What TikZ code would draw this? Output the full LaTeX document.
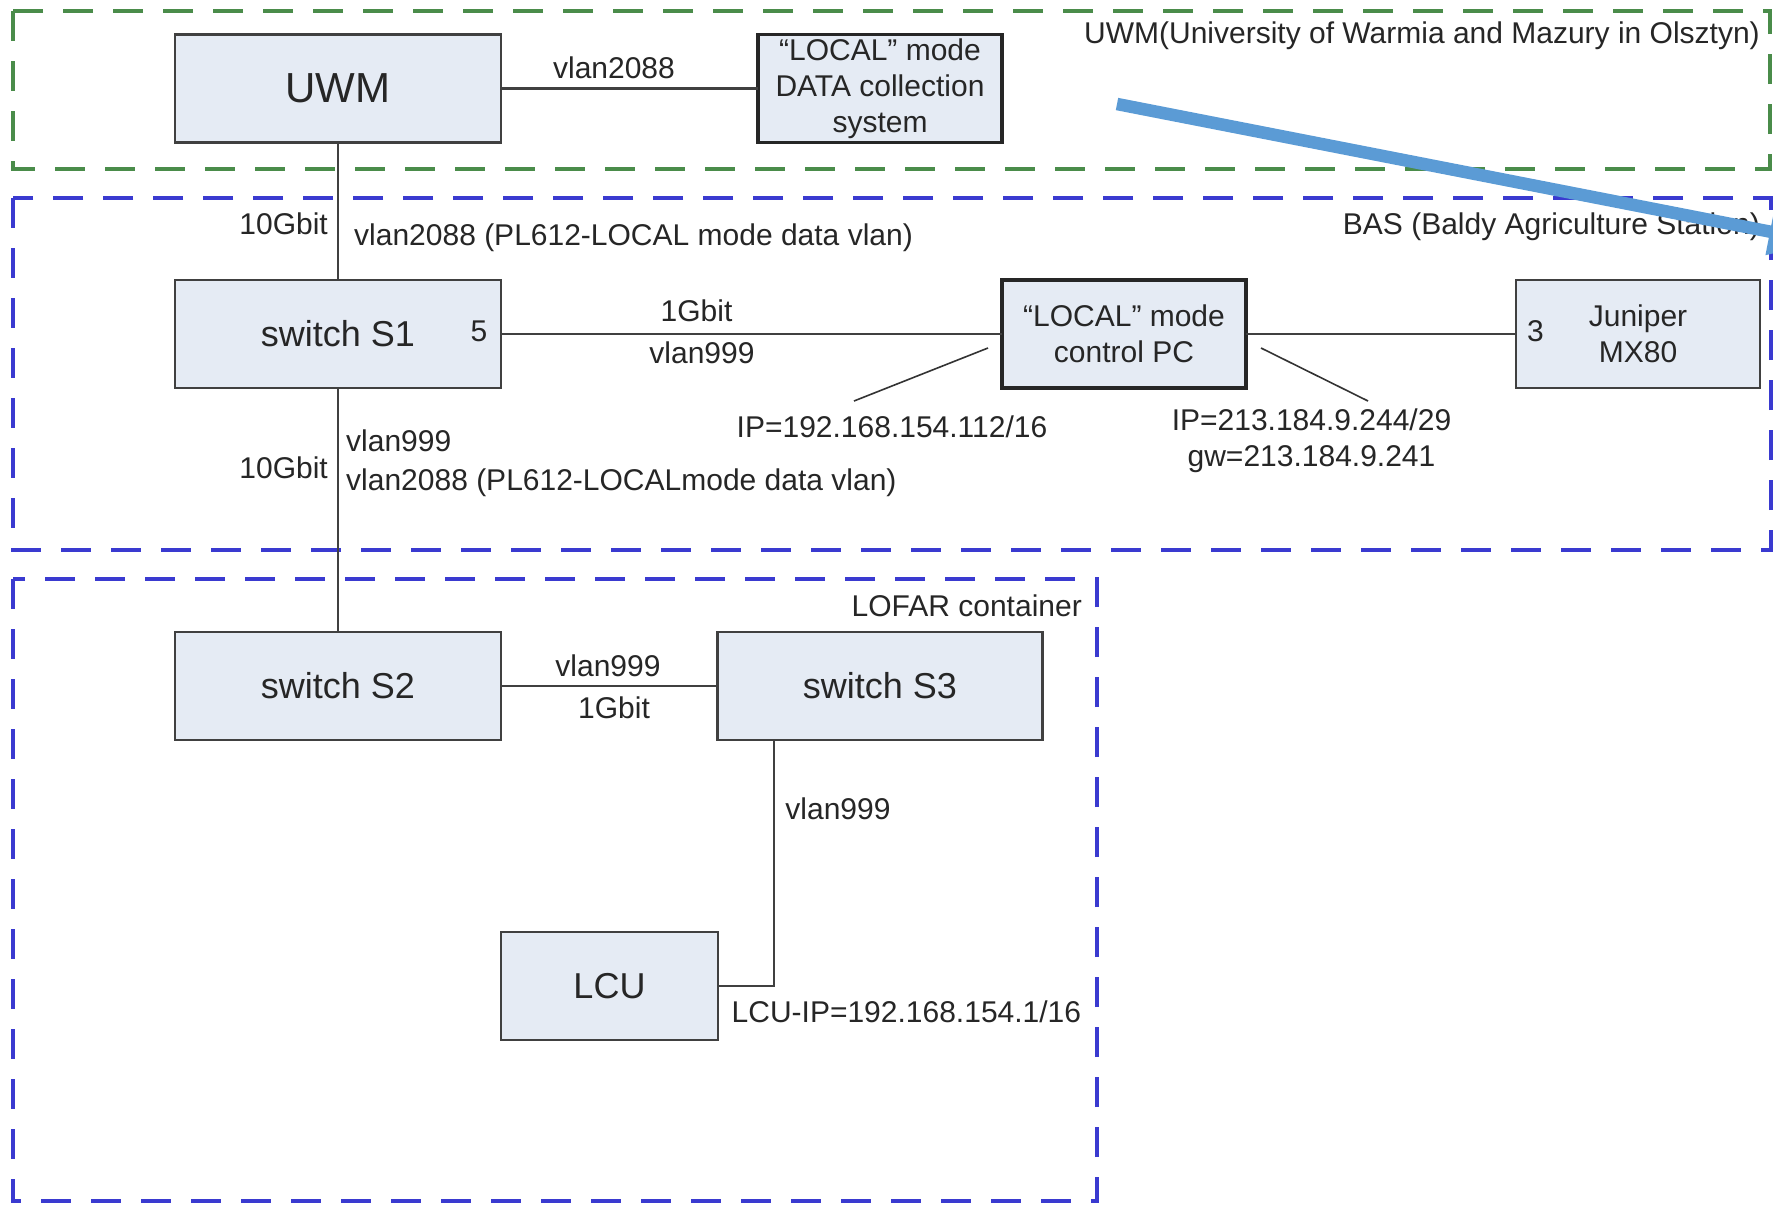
\documentclass[tikz,border=0pt]{standalone}
\usepackage{fontspec}
\setmainfont{Liberation Sans}
\usetikzlibrary{calc,arrows.meta}
\definecolor{boxfill}{HTML}{E5EBF4}
\definecolor{boxline}{HTML}{404040}
\definecolor{grn}{HTML}{4A8C4A}
\definecolor{blu}{HTML}{3A3AD0}
\definecolor{arrowblue}{HTML}{5B9BD5}
\definecolor{txt}{HTML}{262626}
\begin{document}
\begin{tikzpicture}[x=1pt,y=-1pt,
  box/.style={draw=boxline, line width=2.8pt, fill=boxfill, inner sep=0pt, outer sep=0pt, align=center, text=txt, minimum height=108pt},
  boldbox/.style={box, draw=black!85, line width=3.8pt},
  conn/.style={draw=boxline, line width=2.5pt},
  leader/.style={draw=black!80, line width=1.6pt},
  lbl/.style={inner sep=0pt, text=txt, align=center, font=\fontsize{30}{36}\selectfont},
  zone/.style={line width=4pt, dash pattern=on 30pt off 20pt},
  big/.style={font=\fontsize{36}{43}\selectfont},
  small/.style={font=\fontsize{30}{36}\selectfont}]
\clip (0,0) rectangle (1773,1205);
\fill[white] (0,0) rectangle (1773,1205);
% zones
\draw[zone, draw=grn] (13,11) rectangle (1770,169);
\draw[zone, draw=blu] (13,198) rectangle (1771,550);
\draw[zone, draw=blu] (13,579) rectangle (1097,1201);
% boxes
\node[box, minimum width=326pt, font=\fontsize{42}{50}\selectfont] (uwm) at (338,88.5) {UWM};
\node[boldbox, small, minimum width=244pt] (data) at (880,88.5) {“LOCAL” mode\\DATA collection\\system};
\node[box, big, minimum width=326pt] (s1) at (338,334) {switch S1};
\node[boldbox, small, minimum width=244pt] (pc) at (1124,334) {“LOCAL” mode\\control PC};
\node[box, small, minimum width=244pt] (jun) at (1638,334) {Juniper\\MX80};
\node[box, big, minimum width=326pt] (s2) at (338,686) {switch S2};
\node[box, big, minimum width=325pt] (s3) at (880,686) {switch S3};
\node[box, big, minimum width=217pt] (lcu) at (609.5,986) {LCU};
% connectors
\draw[conn] (uwm.east) -- (data.west);
\draw[conn] (uwm.south) -- (s1.north);
\draw[conn] (s1.east) -- (pc.west);
\draw[conn] (pc.east) -- (jun.west);
\draw[conn] (s1.south) -- (s2.north);
\draw[conn] (s2.east) -- (s3.west);
\draw[conn] ($(s3.south west)+(56.5,0)$) |- (lcu.east);
% port numbers
\node[lbl] (p5) at (479,331) {5};
\node[lbl] (p3) at (1535.5,331) {3};
% zone titles
\node[lbl, anchor=east] (tuwm) at (1760,36) {UWM(University of Warmia and Mazury in Olsztyn)};
\node[lbl, anchor=east] (tbas) at (1760,227) {BAS (Baldy Agriculture Station)};
\node[lbl, anchor=east] (tlof) at (1082,606) {LOFAR container};
% link labels
\node[lbl] (l1) at (614,68) {vlan2088};
\node[lbl, anchor=east] (l2) at (328,224) {10Gbit};
\node[lbl, anchor=west] (l3) at (354,238) {vlan2088 (PL612-LOCAL mode data vlan)};
\node[lbl] (l4) at (696.5,311) {1Gbit};
\node[lbl] (l5) at (702,353) {vlan999};
\node[lbl, anchor=west] (l6) at (346,441) {vlan999};
\node[lbl, anchor=east] (l7) at (328,468) {10Gbit};
\node[lbl, anchor=west] (l8) at (346,483) {vlan2088 (PL612-LOCALmode data vlan)};
\node[lbl] (l9) at (608,666) {vlan999};
\node[lbl] (l10) at (614,708) {1Gbit};
\node[lbl] (l11) at (838,809) {vlan999};
\node[lbl, anchor=west] (l12) at (731.5,1012) {LCU-IP=192.168.154.1/16};
% IP labels with leaders
\node[lbl] (ip1) at (892,427) {IP=192.168.154.112/16};
\node[lbl] (ip2) at (1311.5,441) {IP=213.184.9.244/29\\gw=213.184.9.241};
\coordinate (a1) at (988,348);
\coordinate (b1) at (854,401);
\coordinate (a2) at (1261,348);
\coordinate (b2) at (1368,401);
\draw[leader] (a1) -- (b1);
\draw[leader] (a2) -- (b2);
% blue arrow
\coordinate (arrs) at (1117,104);
\coordinate (arre) at (1824,242.2);
\draw[draw=arrowblue, fill=arrowblue, line width=12.5pt, -{Triangle[length=55pt,width=44pt]}] (arrs) -- (arre);
\end{tikzpicture}
\end{document}
